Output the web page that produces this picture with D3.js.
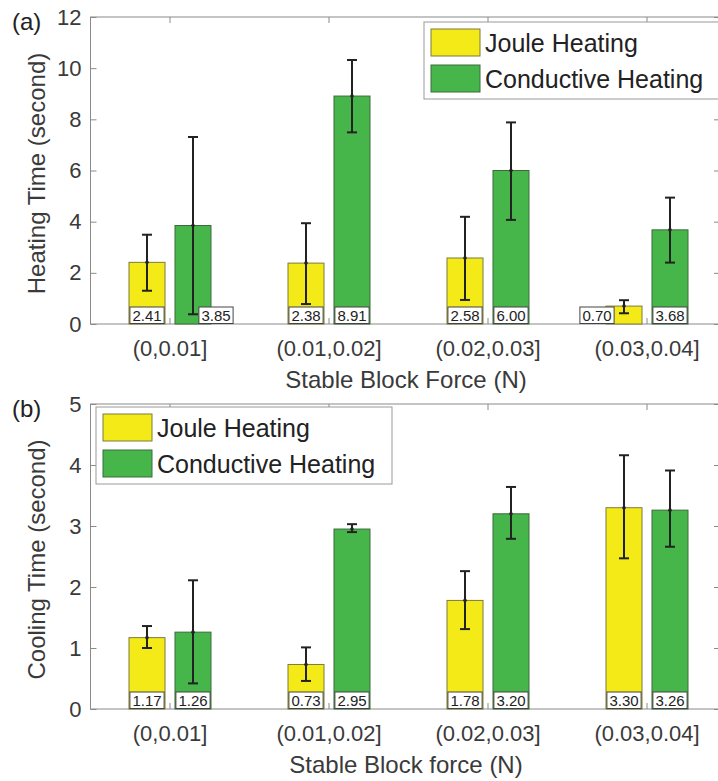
<!DOCTYPE html>
<html>
<head>
  <meta charset="utf-8">
  <title>Heating and cooling time</title>
  <script src="https://d3js.org/d3.v7.min.js"></script>
  <style>
    body { margin: 0; background: #fff; }
    text { font-family: "Liberation Sans", Arial, sans-serif; }
  </style>
</head>
<body>
  <svg width="718" height="781"></svg>
  <script>
    // categories and series
    var categories = ["(0,0.01]", "(0.01,0.02]", "(0.02,0.03]", "(0.03,0.04]"];
    var seriesNames = ["Joule Heating", "Conductive Heating"];
    var seriesColors = ["#f3ea18", "#47b64a"];

    // (a) heating time
    var heatJoule = [2.41, 2.38, 2.58, 0.70];
    var heatJouleLo = [1.30, 0.78, 0.94, 0.42];
    var heatJouleHi = [3.49, 3.94, 4.19, 0.93];
    var heatCond = [3.85, 8.91, 6.00, 3.68];
    var heatCondLo = [0.38, 7.49, 4.07, 2.40];
    var heatCondHi = [7.31, 10.32, 7.88, 4.94];

    // (b) cooling time
    var coolJoule = [1.17, 0.73, 1.78, 3.30];
    var coolJouleLo = [1.00, 0.46, 1.31, 2.47];
    var coolJouleHi = [1.36, 1.01, 2.26, 4.16];
    var coolCond = [1.26, 2.95, 3.20, 3.26];
    var coolCondLo = [0.42, 2.90, 2.79, 2.66];
    var coolCondHi = [2.11, 3.03, 3.64, 3.91];

    var heatTicks = [0, 2, 4, 6, 8, 10, 12];
    var coolTicks = [0, 1, 2, 3, 4, 5];

    var svg = d3.select("svg");
    var axisColor = "#8a8a8a";
    var textColor = "#3a3a3a";

    function drawPanel(p) {
      var left = 90.5, right = 720;
      var x = d3.scaleBand().domain(categories).range([90.5, 726.5]);
      var inner = d3.scaleBand().domain([0, 1]).range([-41, 41]).paddingInner(0.217);
      var y = d3.scaleLinear().domain([0, p.yMax]).range([p.bottom, p.top]);
      var g = svg.append("g");

      // box
      g.append("rect")
        .attr("x", left).attr("y", p.top)
        .attr("width", right - left).attr("height", p.bottom - p.top)
        .attr("fill", "none").attr("stroke", axisColor);

      // y axis, ticks inward
      var yAxis = g.append("g")
        .attr("transform", "translate(" + left + ",0)")
        .call(d3.axisLeft(y).tickValues(p.ticks).tickFormat(d3.format("d"))
          .tickSizeInner(-6).tickSizeOuter(0).tickPadding(9));
      yAxis.select(".domain").remove();
      yAxis.selectAll("line").attr("stroke", axisColor);
      yAxis.selectAll("text").attr("fill", textColor).style("font-size", "22px")
        .style("font-family", "Liberation Sans, Arial, sans-serif");

      var yRight = g.append("g")
        .attr("transform", "translate(" + right + ",0)")
        .call(d3.axisRight(y).tickValues(p.ticks).tickSizeInner(-6).tickSizeOuter(0).tickFormat(""));
      yRight.select(".domain").remove();
      yRight.selectAll("line").attr("stroke", axisColor);

      // x axis
      var xAxis = g.append("g")
        .attr("transform", "translate(0," + p.bottom + ")")
        .call(d3.axisBottom(x).tickSizeInner(-6).tickSizeOuter(0).tickPadding(16));
      xAxis.select(".domain").remove();
      xAxis.selectAll("line").attr("stroke", axisColor);
      xAxis.selectAll("text").attr("fill", textColor).style("font-size", "22px")
        .style("font-family", "Liberation Sans, Arial, sans-serif");

      var xTop = g.append("g")
        .attr("transform", "translate(0," + p.top + ")")
        .call(d3.axisTop(x).tickSizeInner(-6).tickSizeOuter(0).tickFormat(""));
      xTop.select(".domain").remove();
      xTop.selectAll("line").attr("stroke", axisColor);

      // build bar records
      var bars = [];
      categories.forEach(function(c, i) {
        p.series.forEach(function(s, k) {
          bars.push({ cat: c, k: k, v: s.v[i], lo: s.lo[i], hi: s.hi[i] });
        });
      });
      bars.forEach(function(d) {
        d.cx = x(d.cat) + x.bandwidth() / 2 + inner(d.k) + inner.bandwidth() / 2;
      });

      g.selectAll(".bar").data(bars).enter().append("rect")
        .attr("class", "bar")
        .attr("x", function(d) { return d.cx - inner.bandwidth() / 2; })
        .attr("y", function(d) { return y(d.v); })
        .attr("width", inner.bandwidth())
        .attr("height", function(d) { return p.bottom - y(d.v); })
        .attr("fill", function(d) { return seriesColors[d.k]; })
        .attr("stroke", function(d) { return d.k === 0 ? "#7d7a3c" : "#3c6a3d"; })
        .attr("stroke-width", 1);

      // error bars
      var eb = g.selectAll(".err").data(bars).enter().append("g").attr("class", "err")
        .attr("stroke", "#222").attr("stroke-width", 2);
      eb.append("line")
        .attr("x1", function(d) { return d.cx; }).attr("x2", function(d) { return d.cx; })
        .attr("y1", function(d) { return y(d.lo); }).attr("y2", function(d) { return y(d.hi); });
      eb.append("line")
        .attr("x1", function(d) { return d.cx - 5; }).attr("x2", function(d) { return d.cx + 5; })
        .attr("y1", function(d) { return y(d.lo); }).attr("y2", function(d) { return y(d.lo); });
      eb.append("line")
        .attr("x1", function(d) { return d.cx - 5; }).attr("x2", function(d) { return d.cx + 5; })
        .attr("y1", function(d) { return y(d.hi); }).attr("y2", function(d) { return y(d.hi); });
      eb.append("circle")
        .attr("cx", function(d) { return d.cx; }).attr("cy", function(d) { return y(d.v); })
        .attr("r", 1.8).attr("fill", "#222").attr("stroke", "none");

      // value labels in boxes at the bar foot
      var boxH = 17;
      var lab = g.selectAll(".vlab").data(bars).enter().append("g").attr("class", "vlab");
      lab.each(function(d) {
        var el = d3.select(this);
        var t = el.append("text")
          .attr("text-anchor", "middle")
          .attr("y", p.bottom - 3.5)
          .attr("fill", "#222")
          .style("font-size", "15px")
          .text(d.v.toFixed(2));
        var w = t.node().getComputedTextLength() + 5;
        // move the box aside when the error bar would run into it
        var shift = 0;
        if (y(d.lo) > p.bottom - boxH - 2) shift = d.k === 0 ? -27 : 23;
        var cx = d.cx + shift;
        t.attr("x", cx);
        el.insert("rect", "text")
          .attr("x", cx - w / 2).attr("y", p.bottom - boxH)
          .attr("width", w).attr("height", boxH - 0.5)
          .attr("fill", "#fff").attr("stroke", "#444").attr("stroke-width", 1);
      });

      // legend
      var L = p.legend;
      var lg = g.append("g").attr("transform", "translate(" + L.x + "," + L.y + ")");
      lg.append("rect").attr("width", L.w).attr("height", 77)
        .attr("fill", "#fff").attr("stroke", "#999");
      seriesNames.forEach(function(name, k) {
        lg.append("rect")
          .attr("x", 7).attr("y", k === 0 ? 7 : 43)
          .attr("width", 49).attr("height", 27)
          .attr("fill", seriesColors[k])
          .attr("stroke", k === 0 ? "#7d7a3c" : "#3c6a3d");
        lg.append("text")
          .attr("x", 61).attr("y", k === 0 ? 30 : 66)
          .attr("fill", "#222")
          .style("font-size", "25px")
          .text(name);
      });

      // axis titles
      svg.append("text")
        .attr("transform", "translate(45," + ((p.top + p.bottom) / 2 + 3) + ") rotate(-90)")
        .attr("text-anchor", "middle")
        .attr("fill", textColor)
        .style("font-size", "24px")
        .text(p.yLabel);
      svg.append("text")
        .attr("x", 406).attr("y", p.bottom + 64)
        .attr("text-anchor", "middle")
        .attr("fill", textColor)
        .style("font-size", "24px")
        .text(p.xLabel);
      svg.append("text")
        .attr("x", 12).attr("y", p.top + 13)
        .attr("fill", "#222")
        .style("font-size", "24px")
        .text(p.tag);
    }

    drawPanel({
      tag: "(a)", top: 17, bottom: 324, yMax: 12, ticks: heatTicks,
      yLabel: "Heating Time (second)", xLabel: "Stable Block Force (N)",
      legend: { x: 424, y: 22, w: 320 },
      series: [
        { v: heatJoule, lo: heatJouleLo, hi: heatJouleHi },
        { v: heatCond, lo: heatCondLo, hi: heatCondHi }
      ]
    });

    drawPanel({
      tag: "(b)", top: 404, bottom: 709, yMax: 5, ticks: coolTicks,
      yLabel: "Cooling Time (second)", xLabel: "Stable Block force (N)",
      legend: { x: 96, y: 407, w: 296 },
      series: [
        { v: coolJoule, lo: coolJouleLo, hi: coolJouleHi },
        { v: coolCond, lo: coolCondLo, hi: coolCondHi }
      ]
    });
  </script>
</body>
</html>
